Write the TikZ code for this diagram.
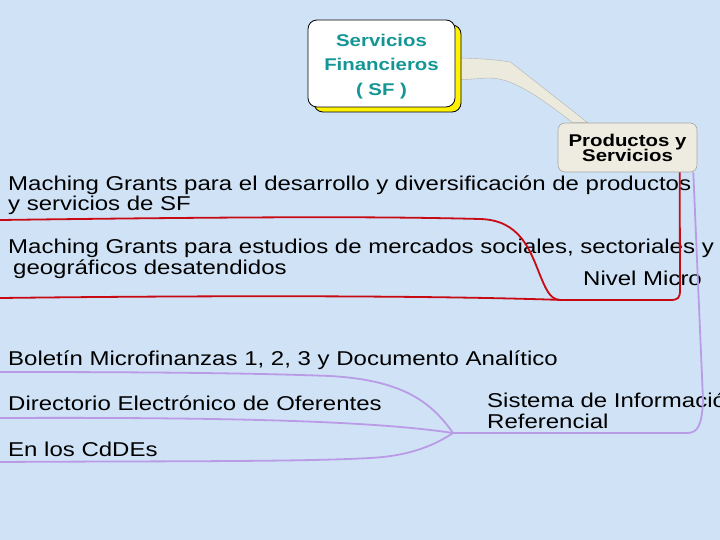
\documentclass[tikz,border=0pt]{standalone}
\usepackage{fontspec}
\setmainfont{Liberation Sans}[FakeStretch=1.2]
\usetikzlibrary{calc,shadows}
\definecolor{bgblue}{RGB}{208,227,246}
\definecolor{sfteal}{RGB}{20,150,150}
\definecolor{beige}{RGB}{238,236,224}
\definecolor{wedgecol}{RGB}{236,234,220}
\definecolor{redline}{RGB}{200,10,20}
\definecolor{lav}{RGB}{185,155,230}
\newcommand\mytightlines{\lineskiplimit=-20pt\relax}
\pgfdeclarelayer{back}
\pgfsetlayers{back,main}
\begin{document}
\begin{tikzpicture}[x=1pt,y=-1pt,
  body/.style={anchor=base west, inner sep=0pt, align=left, font=\fontsize{20}{20.5}\selectfont\mytightlines},
  sfbox/.style={draw=black, line width=0.8pt, fill=white, rounded corners=9pt,
    minimum width=147pt, minimum height=87pt, inner sep=0pt, align=center,
    text=sfteal, font=\bfseries\fontsize{17}{24.5}\selectfont,
    drop shadow={shadow xshift=6pt, shadow yshift=-5pt, fill=yellow, draw=black, opacity=1}},
  prodbox/.style={draw=gray!70, line width=0.6pt, fill=beige, rounded corners=7pt,
    minimum width=139pt, minimum height=49pt, inner sep=0pt, align=center,
    font=\bfseries\fontsize{17}{15}\selectfont\mytightlines},
  redl/.style={draw=redline, line width=1.8pt},
  lavl/.style={draw=lav, line width=1.8pt}]
\useasboundingbox (0,0) rectangle (720,540);
% nodes
\node[sfbox] (sf) at (381.5,63.5) {\rule{0pt}{18.5pt}Servicios\\Financieros\\( SF )};
\node[prodbox] (prod) at (627.5,147.5) {\rule{0pt}{14pt}Productos y\\Servicios};
\node[body] (mg1) at (8,211) {Maching Grants para el desarrollo y diversificación de productos\\y servicios de SF};
\node[body] (mg2) at (8,274) {Maching Grants para estudios de mercados sociales, sectoriales y\\\hspace*{5pt}geográficos desatendidos};
\node[body] (micro) at (583,285) {Nivel Micro};
\node[body] (bol) at (8,365) {Boletín Microfinanzas 1, 2, 3 y Documento Analítico};
\node[body] (dir) at (8,410) {Directorio Electrónico de Oferentes};
\node[body] (cd) at (8,456) {En los CdDEs};
\node[body] (sir) at (487,428) {Sistema de Información\\Referencial};
% junctions and free ends
\coordinate (jmicro) at (562,300);
\coordinate (jsir) at (453,433);
\coordinate (mg1end) at (0,220);
\coordinate (mg2end) at (0,298);
\coordinate (bolend) at (0,372);
\coordinate (dirend) at (0,418);
\coordinate (cdend) at (0,462);
% background and wedge
\begin{pgfonlayer}{back}
\fill[bgblue] (0,0) rectangle (720,540);
\filldraw[fill=wedgecol, draw=gray!60, line width=0.4pt]
  ($(sf.east)+(2,-5.5)$) .. controls ($(sf.east)+(30,-5)$) and ($(sf.east)+(45,-3)$) .. ($(sf.east)+(55,-1.5)$)
  -- ($(prod.north west)+(30,0)$) -- ($(prod.north west)+(15,0)$)
  .. controls ($(prod.north west)+(-30,-35)$) and ($(prod.north west)+(-50,-45)$) .. ($(sf.east)+(32,14.5)$)
  -- ($(sf.east)+(2,16.5)$) -- cycle;
\end{pgfonlayer}
% red branch
\draw[redl] ($(prod.south west)+(122,0)$) -- (680,290) .. controls (680,298) and (678,300) .. (670,300) -- (jmicro);
\draw[redl] (jmicro) .. controls (552,300) and (548,295) .. (540,275) .. controls (530,250) and (520,220) .. (480,219) .. controls (400,217) and (300,216) .. (mg1end);
\draw[redl] (jmicro) .. controls (450,296) and (250,295) .. (mg2end);
% lavender branch
\draw[lavl] ($(prod.south east)+(-4,0)$) -- (703,400) .. controls (702,425) and (698,433) .. (687,433) -- (jsir);
\draw[lavl] (jsir) .. controls (430,400) and (400,380) .. (330,376) .. controls (250,373) and (150,372) .. (bolend);
\draw[lavl] (jsir) .. controls (380,422) and (250,417) .. (dirend);
\draw[lavl] (jsir) .. controls (435,445) and (410,456) .. (370,458) .. controls (300,462) and (150,461) .. (cdend);
\end{tikzpicture}
\end{document}
